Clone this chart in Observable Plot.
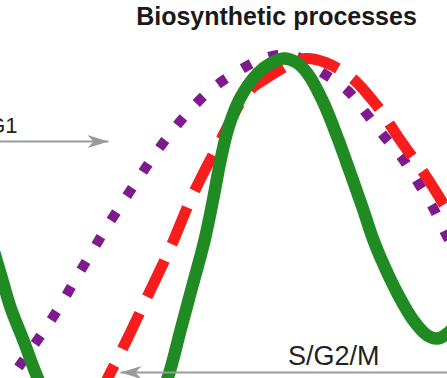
<!DOCTYPE html>
<html>
<head>
<meta charset="utf-8">
<script src="https://cdn.jsdelivr.net/npm/d3@7"></script>
<script src="https://cdn.jsdelivr.net/npm/@observablehq/plot@0.6"></script>
<style>
  html, body { margin: 0; padding: 0; background: #fff; overflow: hidden; }
  #chart svg { display: block; }
</style>
</head>
<body>
<div id="chart"></div>
<script>
// Curve values: time (x) and activity level (y)
const greenX = [-35, -15, 0, 10, 23, 37, 55, 75, 100, 125, 145, 157, 167, 180, 192, 204, 213, 220, 228, 240, 257, 270, 283, 296, 307, 322, 337, 350, 362, 372, 380, 397, 413, 427, 437, 447, 460];
const greenY = [203, 153, 105, 71, 38, 1, -37, -60, -69, -62, -42, -22, 0, 48, 93, 138, 181, 218, 251, 281, 305, 315, 320, 316, 305, 278, 241, 205, 171, 141, 121, 85, 58, 43, 40, 45, 60];

const purpleX = [-15, 13, 29, 45, 61, 76, 91, 106, 122, 138, 155, 173, 192, 213, 237, 263, 290, 320, 347, 365, 383, 402, 418, 433, 445, 465];
const purpleY = [-37, 4, 27, 50, 75, 101, 126, 151, 176, 200, 225, 249, 271, 291, 307, 320, 324, 307, 288, 266, 243, 220, 195, 170, 145, 108];

const redX = [95, 107, 127, 145, 170, 192, 220, 247, 267, 287, 305, 325, 352, 377, 400, 425, 447, 470];
const redY = [-22, 0, 40, 78, 131, 183, 238, 286, 301, 313, 320, 316, 300, 272, 238, 203, 168, 130];

// Phase arrows
const arrowLabels = ["G1", "S/G2/M"];
const arrowFrom = [-5, 455];
const arrowTo = [108, 120];
const arrowLevel = [237, 6];
const arrowRot = [0, 180];
const labelX = [17, 379];
const labelY = [246, 14];
const labelSize = [22, 27];

const titleText = ["Biosynthetic processes"];
const titleX = [276];
const titleY = [354];

const toPts = (xs, ys) => xs.map((x, i) => ({x, y: ys[i]}));
const green = toPts(greenX, greenY);
const purple = toPts(purpleX, purpleY);
const red = toPts(redX, redY);
const arrows = arrowLabels.map((t, i) => ({
  text: t, x1: arrowFrom[i], x2: arrowTo[i], y: arrowLevel[i], rot: arrowRot[i],
  lx: labelX[i], ly: labelY[i], size: labelSize[i]
}));
const titles = titleText.map((t, i) => ({text: t, x: titleX[i], y: titleY[i]}));

const arrowHead = {
  draw(ctx) {
    ctx.moveTo(0, 0);
    ctx.lineTo(-21, -6.5);
    ctx.lineTo(-15, 0);
    ctx.lineTo(-21, 6.5);
    ctx.closePath();
  }
};

const font = "'Liberation Sans', Arial, Helvetica, sans-serif";

const chart = Plot.plot({
  width: 447,
  height: 378,
  margin: 0,
  x: {domain: [0, 447], axis: null},
  y: {domain: [0, 378], axis: null},
  style: {background: "#fff", overflow: "hidden"},
  marks: [
    Plot.line(purple, {x: "x", y: "y", curve: "catmull-rom", stroke: "#7e1a8e", strokeWidth: 10,
      strokeDasharray: "10,19", strokeLinecap: "butt", strokeLinejoin: "miter", clip: true}),
    Plot.line(red, {x: "x", y: "y", curve: "catmull-rom", stroke: "#f81d1d", strokeWidth: 11,
      strokeDasharray: "40,18", strokeLinecap: "butt", strokeLinejoin: "miter", clip: true}),
    Plot.line(green, {x: "x", y: "y", curve: "catmull-rom", stroke: "#1f8b22", strokeWidth: 12.5,
      strokeLinecap: "round", clip: true}),
    Plot.link(arrows, {x1: "x1", x2: "x2", y1: "y", y2: "y", stroke: "#9a9a9a", strokeWidth: 2, clip: true}),
    Plot.dot(arrows, {x: "x2", y: "y", symbol: arrowHead, rotate: "rot", fill: "#9a9a9a", stroke: "none", r: 5}),
    Plot.text(arrows, {x: "lx", y: "ly", text: "text", fontSize: "size", textAnchor: "end", lineAnchor: "bottom",
      fill: "#222", fontFamily: font}),
    Plot.text(titles, {x: "x", y: "y", text: "text", fontSize: 25, fontWeight: "bold", textAnchor: "middle",
      lineAnchor: "bottom", fill: "#1a1a1a", fontFamily: font})
  ]
});
document.getElementById("chart").appendChild(chart);
</script>
</body>
</html>
